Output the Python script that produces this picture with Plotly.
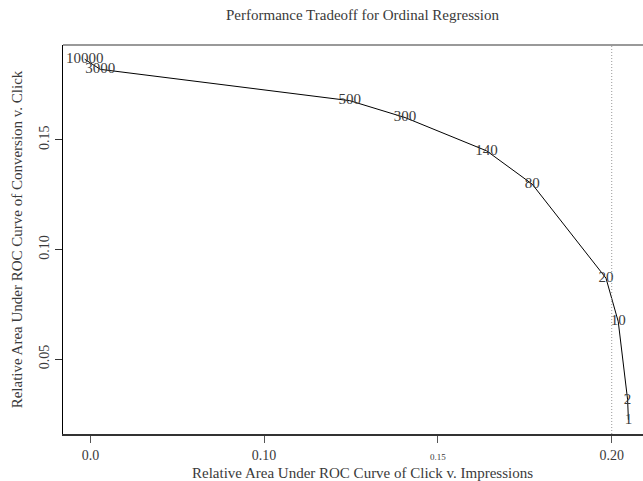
import plotly.graph_objects as go

# Data
labels = ["10000", "3000", "500", "300", "140", "80", "20", "10", "2", "1"]
click_auc = [-0.0022, 0.0038, 0.0995, 0.1207, 0.1520, 0.1695, 0.1978, 0.2025, 0.2061, 0.2064]
conv_auc = [0.1868, 0.1822, 0.1679, 0.1602, 0.1450, 0.1298, 0.0869, 0.0671, 0.0314, 0.0223]

x_tick_vals = [0.0, 0.0666, 0.1333, 0.2]
x_tick_text = ["0.0", "0.10", "<span style='font-size:9px'>0.15</span>", "0.20"]
y_tick_vals = [0.05, 0.10, 0.15]
y_tick_text = ["0.05", "0.10", "0.15"]
ref_x = 0.20

title_text = "Performance Tradeoff for Ordinal Regression"
x_title = "Relative Area Under ROC Curve of Click v. Impressions"
y_title = "Relative Area Under ROC Curve of Conversion v. Click"

FONT = "Liberation Serif"
TXT = "#3a3a3a"
FS = 15
TFS = 14

fig = go.Figure()
fig.add_trace(go.Scatter(
    x=click_auc, y=conv_auc, mode="lines+text", text=labels,
    textposition="middle center",
    textfont=dict(family=FONT, size=FS, color=TXT),
    line=dict(color="black", width=1), hoverinfo="skip", showlegend=False,
))

fig.add_shape(type="line", xref="x", yref="paper", x0=ref_x, x1=ref_x, y0=0, y1=1,
              line=dict(color="#999999", width=1, dash="1px,2px"))
fig.add_shape(type="line", xref="paper", yref="paper", x0=0, x1=1, y0=1, y1=1,
              line=dict(color="#777777", width=1.5))

# plot area spans x 63..643 px; the original's centre is at ~362 px
cx = (362 - 63) / 580
fig.add_annotation(text=title_text, xref="paper", yref="paper", x=cx, y=1,
                   xanchor="center", yanchor="middle", yshift=30, showarrow=False,
                   font=dict(family=FONT, size=FS, color=TXT))
fig.add_annotation(text=x_title, xref="paper", yref="paper", x=cx, y=0,
                   xanchor="center", yanchor="middle", yshift=-39, showarrow=False,
                   font=dict(family=FONT, size=FS, color=TXT))

fig.update_layout(
    width=643, height=481,
    margin=dict(l=63, r=0, t=45, b=47),
    paper_bgcolor="white", plot_bgcolor="white",
    font=dict(family=FONT, size=FS, color=TXT),
    xaxis=dict(range=[-0.01052, 0.2120], showgrid=False, zeroline=False,
               showline=True, linecolor="#333333", linewidth=1.5,
               tickmode="array", tickvals=x_tick_vals, ticktext=x_tick_text,
               ticks="outside", ticklen=7, tickcolor="#555555",
               tickfont=dict(family=FONT, size=TFS, color=TXT)),
    yaxis=dict(range=[0.0158, 0.1933], showgrid=False, zeroline=False,
               showline=True, linecolor="black", linewidth=1,
               tickmode="array", tickvals=y_tick_vals, ticktext=y_tick_text,
               ticks="outside", ticklen=7, tickcolor="#333333", tickangle=-90,
               tickfont=dict(family=FONT, size=TFS, color=TXT),
               title=dict(text=y_title, standoff=11,
                          font=dict(family=FONT, size=FS, color=TXT))),
)

fig.write_html("out.html")
